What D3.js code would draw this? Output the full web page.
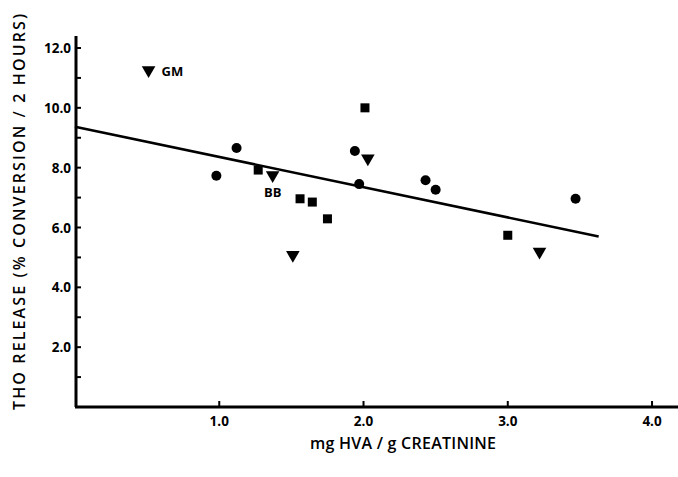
<!DOCTYPE html>
<html lang="en">
<head>
    <meta charset="UTF-8">
    <title>THO release vs HVA</title>
    <script src="https://d3js.org/d3.v7.min.js"></script>
    <style>
        body { margin: 0; background: #fff; }
        .tick-label {
            font-family: "Open Sans", Arial, sans-serif;
            font-weight: 700;
            font-size: 13.5px;
            fill: #000;
        }
        .axis-title {
            font-family: "Open Sans", Arial, sans-serif;
            font-weight: 600;
            font-size: 16px;
            fill: #000;
        }
        .point-label {
            font-family: "Open Sans", Arial, sans-serif;
            font-weight: 700;
            font-size: 13px;
            fill: #000;
        }
    </style>
</head>
<body>
<svg width="678" height="477"></svg>
<script>
    // data
    const circles = [
        {x: 0.98, y: 7.73}, {x: 1.12, y: 8.66}, {x: 1.94, y: 8.56},
        {x: 1.97, y: 7.45}, {x: 2.43, y: 7.58}, {x: 2.50, y: 7.26},
        {x: 3.47, y: 6.96}
    ];
    const squares = [
        {x: 1.27, y: 7.92}, {x: 2.01, y: 10.0}, {x: 1.56, y: 6.96},
        {x: 1.645, y: 6.85}, {x: 1.75, y: 6.29}, {x: 3.00, y: 5.74}
    ];
    const triangles = [
        {x: 0.51, y: 11.26, label: "GM"}, {x: 1.37, y: 7.75, label: "BB"},
        {x: 2.03, y: 8.31}, {x: 1.51, y: 5.08}, {x: 3.22, y: 5.19}
    ];
    const fitLine = [{x: 0.0, y: 9.37}, {x: 3.63, y: 5.70}];
    const xTicks = [1, 2, 3, 4];
    const yTicks = [2, 4, 6, 8, 10, 12];
    const yMinor = [1, 3, 5, 7, 9, 11];

    const svg = d3.select("svg");

    const x = d3.scaleLinear().domain([0, 4.18]).range([75, 678]);
    const y = d3.scaleLinear().domain([0, 12]).range([407, 48]);

    // axes
    const ax = svg.append("g");
    ax.append("line")
        .attr("x1", x(0) + 1).attr("x2", x(0) + 1)
        .attr("y1", y(12.4)).attr("y2", y(0))
        .attr("stroke", "#000").attr("stroke-width", 3);
    ax.append("line")
        .attr("x1", x(0)).attr("x2", x(4.18))
        .attr("y1", y(0)).attr("y2", y(0))
        .attr("stroke", "#000").attr("stroke-width", 3);

    ax.selectAll(".ytick")
        .data(yTicks.concat(yMinor))
        .enter().append("line")
        .attr("x1", x(0)).attr("x2", x(0) + 6)
        .attr("y1", d => y(d)).attr("y2", d => y(d))
        .attr("stroke", "#000").attr("stroke-width", 2);

    ax.selectAll(".ylab")
        .data(yTicks)
        .enter().append("text")
        .attr("class", "tick-label")
        .attr("x", x(0) - 4)
        .attr("y", d => y(d) + 5)
        .attr("text-anchor", "end")
        .text(d => d.toFixed(1));

    ax.selectAll(".xtick")
        .data(xTicks)
        .enter().append("line")
        .attr("x1", d => x(d)).attr("x2", d => x(d))
        .attr("y1", y(0)).attr("y2", y(0) - 6)
        .attr("stroke", "#000").attr("stroke-width", 2);

    ax.selectAll(".xlab")
        .data(xTicks)
        .enter().append("text")
        .attr("class", "tick-label")
        .attr("x", d => x(d))
        .attr("y", y(0) + 19)
        .attr("text-anchor", "middle")
        .text(d => d.toFixed(1));

    // axis titles
    svg.append("text")
        .attr("class", "axis-title")
        .attr("x", 403).attr("y", 449)
        .attr("text-anchor", "middle")
        .attr("textLength", 186)
        .attr("lengthAdjust", "spacing")
        .text("mg HVA / g  CREATININE");

    svg.append("text")
        .attr("class", "axis-title")
        .attr("transform", "translate(25,212) rotate(-90)")
        .attr("text-anchor", "middle")
        .attr("textLength", 396)
        .attr("lengthAdjust", "spacing")
        .text("THO RELEASE (% CONVERSION / 2 HOURS)");

    // regression line
    svg.append("path")
        .datum(fitLine)
        .attr("fill", "none")
        .attr("stroke", "#000")
        .attr("stroke-width", 2.6)
        .attr("d", d3.line().x(d => x(d.x)).y(d => y(d.y)));

    // points
    svg.append("g").selectAll("circle")
        .data(circles)
        .enter().append("circle")
        .attr("cx", d => x(d.x)).attr("cy", d => y(d.y))
        .attr("r", 5).attr("fill", "#000");

    svg.append("g").selectAll("rect")
        .data(squares)
        .enter().append("rect")
        .attr("x", d => x(d.x) - 4.5).attr("y", d => y(d.y) - 4.5)
        .attr("width", 9).attr("height", 9).attr("fill", "#000");

    const tri = d3.symbol().type(d3.symbolTriangle).size(80);
    svg.append("g").selectAll("path")
        .data(triangles)
        .enter().append("path")
        .attr("d", tri)
        .attr("transform", d => `translate(${x(d.x)},${y(d.y)}) rotate(180)`)
        .attr("fill", "#000");

    // labels
    const gm = triangles.find(d => d.label === "GM");
    const bb = triangles.find(d => d.label === "BB");
    svg.append("text").attr("class", "point-label")
        .attr("x", x(gm.x) + 13).attr("y", y(gm.y) + 6)
        .text(gm.label);
    svg.append("text").attr("class", "point-label")
        .attr("x", x(bb.x)).attr("y", y(bb.y) + 22)
        .attr("text-anchor", "middle")
        .text(bb.label);
</script>
</body>
</html>
